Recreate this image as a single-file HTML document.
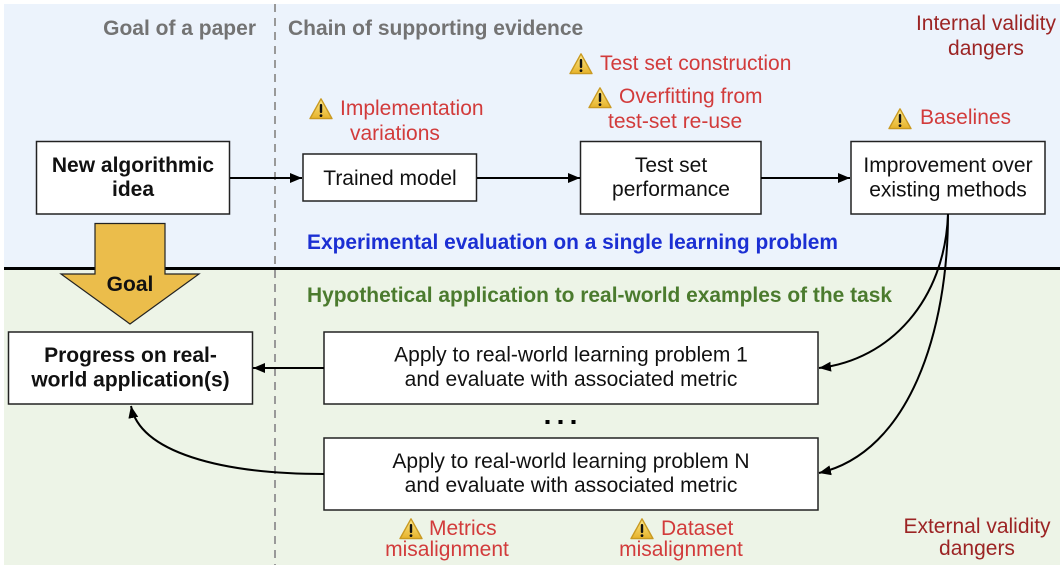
<!DOCTYPE html>
<html>
<head>
<meta charset="utf-8">
<style>
  html, body { margin: 0; padding: 0; background: #ffffff; }
  svg { display: block; }
  text { font-family: "Liberation Sans", Arial, sans-serif; font-size: 21px; }
  .b { font-weight: bold; }
  .hdr { font-weight: bold; fill: #737373; }
  .red { fill: #d23b3b; }
  .dred { fill: #9c2424; }
  .blk { fill: #111; }
</style>
</head>
<body>
<svg width="1064" height="570" viewBox="0 0 1064 570" xmlns="http://www.w3.org/2000/svg">
  <defs>
    <linearGradient id="wg" x1="0" y1="0" x2="0" y2="1">
      <stop offset="0" stop-color="#fde98a"/>
      <stop offset="1" stop-color="#e6b22a"/>
    </linearGradient>
    <g id="warn">
      <path d="M12,1.8 L23,21.6 L1,21.6 Z" fill="url(#wg)" stroke="#c99a22" stroke-width="1.4" stroke-linejoin="round"/>
      <rect x="10.8" y="7" width="2.4" height="9" rx="1" fill="#111"/>
      <circle cx="12" cy="18.6" r="1.4" fill="#111"/>
    </g>
    <marker id="ah" markerUnits="userSpaceOnUse" markerWidth="13" markerHeight="11" refX="12" refY="5" orient="auto">
      <path d="M0,0 L12,5 L0,10 Z" fill="#000"/>
    </marker>
  </defs>

  <!-- backgrounds -->
  <rect x="4" y="4" width="1056" height="264" fill="#ecf3fc"/>
  <rect x="4" y="268" width="1056" height="297" fill="#edf4e7"/>

  <!-- dashed divider -->
  <line x1="275" y1="4" x2="275" y2="565" stroke="#999" stroke-width="2" stroke-dasharray="8,6"/>

  <!-- horizontal separator -->
  <rect x="4" y="267" width="1056" height="3" fill="#000"/>

  <!-- headers -->
  <text x="256" y="35" class="hdr" text-anchor="end">Goal of a paper</text>
  <text x="288" y="35" class="hdr">Chain of supporting evidence</text>
  <text x="986" y="30" class="dred" text-anchor="middle">Internal validity</text>
  <text x="986" y="55" class="dred" text-anchor="middle">dangers</text>

  <!-- warnings top -->
  <use href="#warn" x="309" y="97"/>
  <text x="340" y="115" class="red">Implementation</text>
  <text x="350" y="140" class="red">variations</text>

  <use href="#warn" x="569" y="52"/>
  <text x="600" y="70" class="red">Test set construction</text>

  <use href="#warn" x="588" y="86"/>
  <text x="619" y="103" class="red">Overfitting from</text>
  <text x="608" y="128" class="red">test-set re-use</text>

  <use href="#warn" x="888" y="107"/>
  <text x="920" y="124" class="red">Baselines</text>

  <!-- top boxes -->
  <rect x="36.5" y="141.5" width="193" height="72.5" fill="#fff" stroke="#222" stroke-width="1.5"/>
  <text x="133" y="172" class="b blk" text-anchor="middle">New algorithmic</text>
  <text x="133" y="196" class="b blk" text-anchor="middle">idea</text>

  <rect x="303" y="154" width="173.5" height="47" fill="#fff" stroke="#222" stroke-width="1.5"/>
  <text x="390" y="185" class="blk" text-anchor="middle">Trained model</text>

  <rect x="580.5" y="141.5" width="180.5" height="72.5" fill="#fff" stroke="#222" stroke-width="1.5"/>
  <text x="671" y="172" class="blk" text-anchor="middle">Test set</text>
  <text x="671" y="196" class="blk" text-anchor="middle">performance</text>

  <rect x="851" y="141.5" width="194" height="72.5" fill="#fff" stroke="#222" stroke-width="1.5"/>
  <text x="948" y="172" class="blk" text-anchor="middle">Improvement over</text>
  <text x="948" y="196.5" class="blk" text-anchor="middle">existing methods</text>

  <!-- top arrows -->
  <line x1="230" y1="178" x2="302" y2="178" stroke="#000" stroke-width="2" marker-end="url(#ah)"/>
  <line x1="477" y1="178" x2="580" y2="178" stroke="#000" stroke-width="2" marker-end="url(#ah)"/>
  <line x1="761" y1="178" x2="850" y2="178" stroke="#000" stroke-width="2" marker-end="url(#ah)"/>

  <!-- blue caption -->
  <text x="307" y="249" class="b" fill="#1b2fd3" textLength="531" lengthAdjust="spacingAndGlyphs">Experimental evaluation on a single learning problem</text>

  <!-- goal arrow -->
  <polygon points="95,223.5 165,223.5 165,274 199,274 130,324 61,274 95,274" fill="#ebbd4b" stroke="#222" stroke-width="1.2" stroke-linejoin="miter"/>
  <text x="130" y="291" class="b blk" text-anchor="middle">Goal</text>

  <!-- green caption -->
  <text x="307" y="302" class="b" fill="#4b7b2e" textLength="585" lengthAdjust="spacingAndGlyphs">Hypothetical application to real-world examples of the task</text>

  <!-- bottom boxes -->
  <rect x="8.5" y="332" width="244" height="72" fill="#fff" stroke="#222" stroke-width="1.5"/>
  <text x="130.5" y="362" class="b blk" text-anchor="middle">Progress on real-</text>
  <text x="130.5" y="386.5" class="b blk" text-anchor="middle">world application(s)</text>

  <rect x="324" y="332" width="494" height="72" fill="#fff" stroke="#222" stroke-width="1.5"/>
  <text x="571" y="361.5" class="blk" text-anchor="middle">Apply to real-world learning problem 1</text>
  <text x="571" y="386" class="blk" text-anchor="middle">and evaluate with associated metric</text>

  <rect x="324" y="438" width="494" height="72" fill="#fff" stroke="#222" stroke-width="1.5"/>
  <text x="571" y="468" class="blk" text-anchor="middle">Apply to real-world learning problem N</text>
  <text x="571" y="492" class="blk" text-anchor="middle">and evaluate with associated metric</text>

  <!-- ellipsis -->
  <rect x="545.5" y="420" width="4" height="4" fill="#000"/>
  <rect x="558.5" y="420" width="4" height="4" fill="#000"/>
  <rect x="571.5" y="420" width="4" height="4" fill="#000"/>

  <!-- bottom arrows -->
  <line x1="324" y1="368" x2="253" y2="368" stroke="#000" stroke-width="2" marker-end="url(#ah)"/>
  <path d="M324,474 C220,474 140,452 131,406" fill="none" stroke="#000" stroke-width="2" marker-end="url(#ah)"/>
  <path d="M948,214 C945,300 890,360 819,368" fill="none" stroke="#000" stroke-width="2" marker-end="url(#ah)"/>
  <path d="M948,214 C948,330 910,452 819,473" fill="none" stroke="#000" stroke-width="2" marker-end="url(#ah)"/>

  <!-- bottom warnings -->
  <use href="#warn" x="399" y="517"/>
  <text x="429" y="535" class="red">Metrics</text>
  <text x="447" y="556" class="red" text-anchor="middle">misalignment</text>

  <use href="#warn" x="630" y="517"/>
  <text x="661" y="535" class="red">Dataset</text>
  <text x="681" y="556" class="red" text-anchor="middle">misalignment</text>

  <text x="977" y="533" class="dred" text-anchor="middle">External validity</text>
  <text x="977" y="555" class="dred" text-anchor="middle">dangers</text>
</svg>
</body>
</html>
